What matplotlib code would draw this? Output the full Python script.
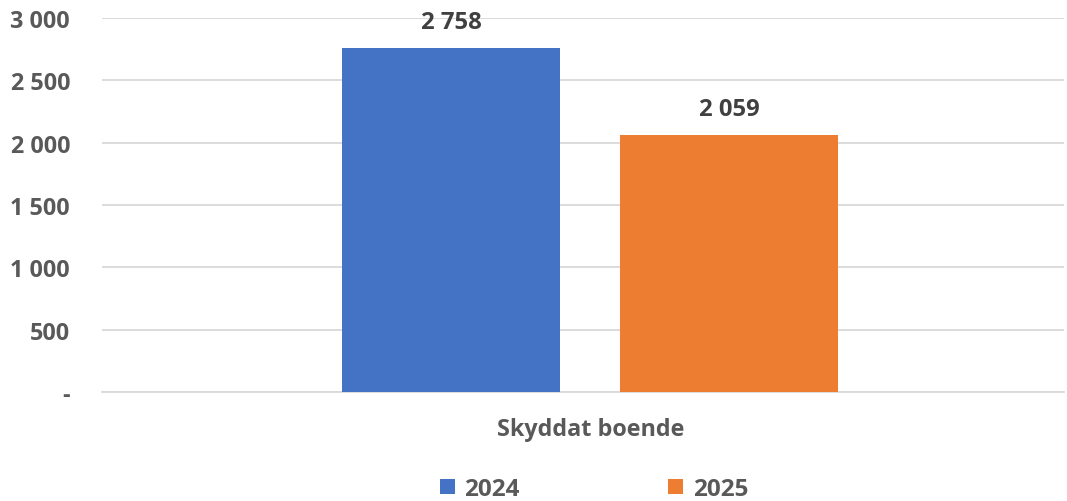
import matplotlib.pyplot as plt
import numpy as np

category = "Skyddat boende"
years = ["2024", "2025"]
values = [2758, 2059]
colors = ["#4472C4", "#ED7D31"]
yticks = [0, 500, 1000, 1500, 2000, 2500, 3000]

plt.rcParams['font.family'] = ['Open Sans', 'DejaVu Sans']
plt.rcParams['font.weight'] = 'bold'

FS = 16.8

def fmt(v):
    if v == 0:
        return "-"
    return f"{v:,}".replace(",", " ")

fig = plt.figure(figsize=(10.67, 5.02), dpi=100)
ax = fig.add_axes([102 / 1067, 1 - 393 / 502, 962 / 1067, (393 - 19) / 502])

offsets = [-0.1445, 0.1445]
width = 0.227
for i, (yr, v, c) in enumerate(zip(years, values, colors)):
    ax.bar(offsets[i], v, width=width, color=c, label=yr, zorder=3)
    ax.annotate(fmt(v), (offsets[i], v), xytext=(0, 10), textcoords="offset points",
                ha="center", va="bottom", fontsize=17.2, fontweight="bold", color="#404040")

ax.set_xlim(-0.5075, 0.4925)
ax.set_ylim(0, 3000)
ax.set_yticks(yticks)
ax.set_yticklabels([fmt(t) for t in yticks])
ax.set_xticks([0])
ax.set_xticklabels([category])
ax.tick_params(axis="y", length=0, pad=23, labelsize=FS, labelcolor="#595959")
ax.tick_params(axis="x", length=0, pad=18, labelsize=FS, labelcolor="#595959")
ax.grid(axis="y", color="#D9D9D9", linewidth=1.3, zorder=0)
for s in ["top", "right", "left"]:
    ax.spines[s].set_visible(False)
ax.spines["bottom"].set_color("#D9D9D9")
ax.spines["bottom"].set_linewidth(1.3)

leg = fig.legend(loc="center", bbox_to_anchor=(594 / 1067, 1 - 490 / 502), ncol=2,
                 frameon=False, fontsize=17.5, handlelength=0.62, handleheight=0.62,
                 handletextpad=0.4, columnspacing=6.1)
for t in leg.get_texts():
    t.set_color("#595959")

fig.savefig("out.png", dpi=100)
